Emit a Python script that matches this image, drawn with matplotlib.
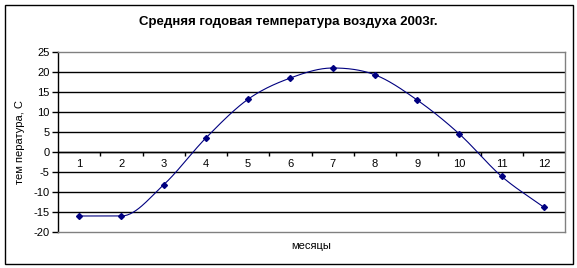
import numpy as np
import matplotlib
matplotlib.use("Agg")
import matplotlib.pyplot as plt
from matplotlib.patches import Rectangle

months = [1, 2, 3, 4, 5, 6, 7, 8, 9, 10, 11, 12]
month_labels = ["1", "2", "3", "4", "5", "6", "7", "8", "9", "10", "11", "12"]
temps = [-16.0, -16.0, -8.2, 3.5, 13.2, 18.5, 21.0, 19.3, 13.0, 4.5, -6.1, -13.8]
y_ticks = [-20, -15, -10, -5, 0, 5, 10, 15, 20, 25]

plt.rcParams['font.family'] = ['Liberation Sans', 'DejaVu Sans']

W, H = 577, 268
fig = plt.figure(figsize=(W / 100, H / 100), dpi=100)
fig.patch.set_facecolor("white")

# outer frame
fig.add_artist(Rectangle((5 / W, 4 / H), 568 / W, 259 / H, transform=fig.transFigure,
                         fill=False, edgecolor="black", linewidth=1.0))

x0, x1, ytop, ybot = 58, 565, 52, 232
ax = fig.add_axes([x0 / W, 1 - ybot / H, (x1 - x0) / W, (ybot - ytop) / H])

# smoothed line drawn through the data points (cubic Hermite rendering)
def smooth(xs, ys, n=30):
    xs = np.asarray(xs, float); ys = np.asarray(ys, float)
    d = np.diff(ys) / np.diff(xs)
    m = np.zeros_like(ys)
    for i in range(1, len(ys) - 1):
        if d[i - 1] * d[i] > 0:
            m[i] = (ys[i + 1] - ys[i - 1]) / (xs[i + 1] - xs[i - 1])
    m[0] = d[0]; m[-1] = d[-1]
    outx, outy = [], []
    t = np.linspace(0, 1, n)
    for i in range(len(xs) - 1):
        h = xs[i + 1] - xs[i]
        h00 = 2 * t**3 - 3 * t**2 + 1; h10 = t**3 - 2 * t**2 + t
        h01 = -2 * t**3 + 3 * t**2; h11 = t**3 - t**2
        outx.extend(xs[i] + h * t)
        outy.extend(h00 * ys[i] + h10 * h * m[i] + h01 * ys[i + 1] + h11 * h * m[i + 1])
    return outx, outy

sx, sy = smooth(months, temps)
ax.plot(sx, sy, color="#000080", linewidth=0.8, zorder=3)
ax.plot(months, temps, linestyle="none", marker="D", markersize=3.0,
        color="#000080", zorder=4)

ax.set_xlim(0.5, 12.5)
ax.set_ylim(-20, 25)
ax.set_yticks(y_ticks)
ax.set_yticklabels([str(v) for v in y_ticks], fontsize=8)
for v in y_ticks[1:-1]:
    ax.axhline(v, color="black", linewidth=1.0, zorder=1)

for side in ["top", "right", "bottom"]:
    ax.spines[side].set_color("#808080")
    ax.spines[side].set_linewidth(1.0)
ax.spines["left"].set_color("black")
ax.spines["left"].set_linewidth(1.0)
ax.tick_params(axis="y", direction="out", length=4, width=1, pad=2, colors="black")

# category axis at y = 0
ax.set_xticks([])
ax.axhline(0, color="black", linewidth=1.0, zorder=2)
ax.vlines(np.arange(1.5, 12.5, 1.0), -0.9, 0, color="black", linewidth=1.0, zorder=2)
for m, lab in zip(months, month_labels):
    ax.text(m, -1.8, lab, ha="center", va="top", fontsize=8)

ax.set_ylabel("тем пература, С", fontsize=8)
ax.yaxis.set_label_coords(-0.065, 0.5)

fig.text((x0 + x1) / 2 / W, 1 - 246 / H, "месяцы", ha="center", va="center", fontsize=8)
fig.text(0.5, 1 - 22 / H, "Средняя годовая температура воздуха 2003г.",
         ha="center", va="center", fontsize=9.5, fontweight="bold")

fig.savefig("out.png", dpi=100)
